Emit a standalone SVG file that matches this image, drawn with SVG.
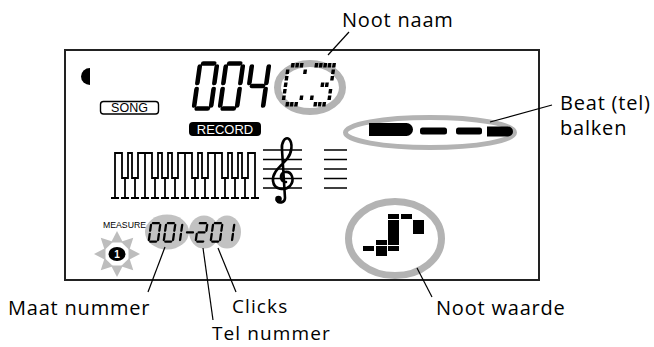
<svg xmlns="http://www.w3.org/2000/svg" xmlns:xlink="http://www.w3.org/1999/xlink" width="654" height="347" viewBox="0 0 654 347">
<style>
.frame{fill:none;stroke:#222;stroke-width:2}
.seg{stroke:#000;stroke-width:4.6;stroke-linecap:round;fill:none}
.sseg{stroke:#000;stroke-width:2.3;stroke-linecap:round;fill:none}
.ring{fill:none;stroke:#b3b3b3}
.gfill{fill:#c2c2c2}
.lead{stroke:#000;stroke-width:1.2;fill:none}
.lbl{font-family:"Open Sans","Noto Sans",sans-serif;font-size:20px;letter-spacing:0.8px;fill:#000}
.lbl2{font-size:19px;letter-spacing:1.1px}
.lcdt{font-family:"Liberation Sans",Arial,sans-serif}
.ray{fill:#bdbdbd}
.px{fill:#000}
.ink{stroke:#000;fill:none}
</style>
<defs>
<g id="D0">
<line x1="5.5" y1="2.5" x2="16.5" y2="2.5"/>
<line x1="19.5" y1="5.5" x2="19.5" y2="22"/>
<line x1="19.5" y1="28" x2="19.5" y2="44.5"/>
<line x1="5.5" y1="47.5" x2="16.5" y2="47.5"/>
<line x1="2.5" y1="28" x2="2.5" y2="44.5"/>
<line x1="2.5" y1="5.5" x2="2.5" y2="22"/>
</g>
<g id="D4">
<line x1="2.5" y1="5.5" x2="2.5" y2="22"/>
<line x1="5.5" y1="25" x2="16.5" y2="25"/>
<line x1="19.5" y1="5.5" x2="19.5" y2="22"/>
<line x1="19.5" y1="28" x2="19.5" y2="44.5"/>
</g>
<g id="S0">
<line x1="3" y1="1.2" x2="9" y2="1.2"/>
<line x1="10.6" y1="3" x2="10.6" y2="8.8"/>
<line x1="10.6" y1="12" x2="10.6" y2="18"/>
<line x1="3" y1="19.6" x2="9" y2="19.6"/>
<line x1="1.4" y1="12" x2="1.4" y2="18"/>
<line x1="1.4" y1="3" x2="1.4" y2="8.8"/>
</g>
<g id="S1">
<line x1="10.6" y1="3" x2="10.6" y2="8.8"/>
<line x1="10.6" y1="12" x2="10.6" y2="18"/>
</g>
<g id="S2">
<line x1="3" y1="1.2" x2="9" y2="1.2"/>
<line x1="10.6" y1="3" x2="10.6" y2="8.8"/>
<line x1="3" y1="10.4" x2="9" y2="10.4"/>
<line x1="1.4" y1="12" x2="1.4" y2="18"/>
<line x1="3" y1="19.6" x2="9" y2="19.6"/>
</g>
<rect id="p" width="3.4" height="4.6"/>
<polygon id="ray" points="0,-23 -6,-11.5 6,-11.5"/>
</defs>

<g id="lcd-frame">
<rect class="frame" x="65" y="50" width="474" height="230"/>
<path d="M90,68 A9,8.5 0 0 0 90,85 Z" fill="#000"/>
</g>

<g id="song-label">
<rect x="100.5" y="101.5" width="58" height="12.5" rx="3" fill="none" stroke="#000" stroke-width="1.4"/>
<text class="lcdt" x="129.5" y="112.3" font-size="12.5" text-anchor="middle">SONG</text>
</g>

<g id="record-label">
<rect x="189" y="122" width="72" height="14" rx="4" fill="#000"/>
<text class="lcdt" x="225" y="133.6" font-size="13" text-anchor="middle" fill="#fff">RECORD</text>
</g>

<g id="song-number">
<g class="seg">
<use xlink:href="#D0" transform="translate(198,61) skewX(-8)"/>
<use xlink:href="#D0" transform="translate(224,61) skewX(-8)"/>
<use xlink:href="#D4" transform="translate(250,61) skewX(-8)"/>
</g>
</g>

<g id="note-name">
<ellipse class="ring" cx="310" cy="87.5" rx="32.5" ry="24" stroke-width="7"/>
<g class="px" transform="translate(287,63) skewX(-8)">
<use xlink:href="#p" x="4.4" y="0"/><use xlink:href="#p" x="8.8" y="0"/><use xlink:href="#p" x="13.2" y="0"/>
<use xlink:href="#p" x="0" y="6.5"/><use xlink:href="#p" x="17.6" y="6.5"/>
<use xlink:href="#p" x="0" y="13"/>
<use xlink:href="#p" x="0" y="19.5"/>
<use xlink:href="#p" x="0" y="26"/>
<use xlink:href="#p" x="0" y="32.5"/><use xlink:href="#p" x="17.6" y="32.5"/>
<use xlink:href="#p" x="4.4" y="39"/><use xlink:href="#p" x="8.8" y="39"/><use xlink:href="#p" x="13.2" y="39"/>
</g>
<g class="px" transform="translate(315,63) skewX(-8)">
<use xlink:href="#p" x="0" y="0"/><use xlink:href="#p" x="4.4" y="0"/><use xlink:href="#p" x="8.8" y="0"/><use xlink:href="#p" x="13.2" y="0"/><use xlink:href="#p" x="17.6" y="0"/>
<use xlink:href="#p" x="17.6" y="6.5"/>
<use xlink:href="#p" x="17.6" y="13"/>
<use xlink:href="#p" x="8.8" y="19.5"/><use xlink:href="#p" x="13.2" y="19.5"/>
<use xlink:href="#p" x="17.6" y="26"/>
<use xlink:href="#p" x="0" y="32.5"/><use xlink:href="#p" x="17.6" y="32.5"/>
<use xlink:href="#p" x="4.4" y="39"/><use xlink:href="#p" x="8.8" y="39"/><use xlink:href="#p" x="13.2" y="39"/>
</g>
</g>

<g id="beat-bars">
<ellipse class="ring" cx="430" cy="132.5" rx="84.5" ry="15" stroke-width="5"/>
<path d="M369,123 H406.5 A6.5,6.5 0 0 1 406.5,136 H369 Z" fill="#000"/>
<rect x="420" y="127.5" width="27" height="7" rx="2.5" fill="#000"/>
<rect x="456" y="127.5" width="26" height="7" rx="2.5" fill="#000"/>
<path d="M487,126.5 H508 A5,5 0 0 1 508,136.5 H487 Z" fill="#000"/>
</g>

<g id="keyboard" class="ink" stroke-width="1.8">
<path d="M115,198 V153 H122 V178 H128 V153 H132 V178 H138 V153 H152 V178 H158 V153 H162 V178 H168 V153 H172 V178 H178 V153 H192 V178 H198 V153 H202 V178 H208 V153 H222 V178 H228 V153 H232 V178 H238 V153 H242 V178 H248 V153 H255 V198"/>
<path d="M125,178V198 M135,178V198 M145,153V198 M155,178V198 M165,178V198 M175,178V198 M185,153V198 M195,178V198 M205,178V198 M215,153V198 M225,178V198 M235,178V198 M245,178V198"/>
<path d="M111,198H119 M121,198H129 M131,198H139 M141,198H149 M151,198H159 M161,198H169 M171,198H179 M181,198H189 M191,198H199 M201,198H209 M211,198H219 M221,198H229 M231,198H239 M241,198H249 M251,198H259"/>
</g>

<g id="staff-clef">
<path class="ink" stroke-width="1.3" d="M263,150H302 M263,159.5H302 M263,169H302 M263,178.5H302 M263,188H302"/>
<path class="ink" stroke-width="2.6" stroke-linecap="round" d="M286,182 C280,182 279,173 285,172 C292,171 295,180 290,186 C285,191 274,190 273,181 C272,172 281,166 287,159 C292,153 293,143 289,139 C285,136 281,143 282,150 L285,198 C285,203 278,204 277,200"/>
<circle cx="278.5" cy="199" r="3.3" fill="#000"/>
</g>

<g id="staff-right">
<path class="ink" stroke-width="1.3" d="M324,150H347 M324,159.5H347 M324,169H347 M324,178.5H347 M324,188H347"/>
</g>

<g id="measure">
<text class="lcdt" x="103" y="228" font-size="8.5" textLength="43" lengthAdjust="spacingAndGlyphs">MEASURE</text>
<ellipse class="gfill" cx="167" cy="232" rx="22" ry="17.5"/>
<ellipse class="gfill" cx="204" cy="232" rx="15" ry="16.5"/>
<ellipse class="gfill" cx="227" cy="232" rx="14" ry="16.5"/>
<g class="sseg">
<use xlink:href="#S0" transform="translate(150,222) skewX(-8)"/>
<use xlink:href="#S0" transform="translate(165,222) skewX(-8)"/>
<use xlink:href="#S1" transform="translate(172,222) skewX(-8)"/>
<line x1="187" y1="232.4" x2="193" y2="232.4"/>
<use xlink:href="#S2" transform="translate(197,222) skewX(-8)"/>
<use xlink:href="#S0" transform="translate(212,222) skewX(-8)"/>
<use xlink:href="#S1" transform="translate(224,222) skewX(-8)"/>
</g>
</g>

<g id="beat-sun">
<g class="ray">
<use xlink:href="#ray" transform="translate(117,254)"/>
<use xlink:href="#ray" transform="translate(117,254) rotate(45)"/>
<use xlink:href="#ray" transform="translate(117,254) rotate(90)"/>
<use xlink:href="#ray" transform="translate(117,254) rotate(135)"/>
<use xlink:href="#ray" transform="translate(117,254) rotate(180)"/>
<use xlink:href="#ray" transform="translate(117,254) rotate(225)"/>
<use xlink:href="#ray" transform="translate(117,254) rotate(270)"/>
<use xlink:href="#ray" transform="translate(117,254) rotate(315)"/>
</g>
<ellipse cx="117" cy="254" rx="8.5" ry="7" fill="#000"/>
<text class="lcdt" x="117" y="257.6" font-size="10" font-weight="bold" text-anchor="middle" fill="#fff">1</text>
</g>

<g id="note-value">
<ellipse class="ring" cx="395" cy="238.5" rx="46.5" ry="37" stroke-width="7"/>
<g fill="#000">
<rect x="363" y="246" width="11" height="5"/>
<rect x="376" y="240" width="11" height="5"/>
<rect x="376" y="246" width="11" height="10"/>
<rect x="388" y="220" width="11" height="25"/>
<rect x="388" y="246" width="11" height="5"/>
<rect x="388" y="214" width="11" height="5"/>
<rect x="401" y="214" width="11" height="5"/>
<rect x="413" y="220" width="11" height="14"/>
</g>
</g>

<g id="connectors" class="lead">
<line x1="349" y1="32" x2="328" y2="55"/>
<line x1="490" y1="122" x2="552" y2="105"/>
<line x1="165" y1="247" x2="148" y2="292"/>
<line x1="203" y1="248" x2="213" y2="320"/>
<line x1="218" y1="248" x2="236" y2="292"/>
<line x1="417" y1="268" x2="432" y2="297"/>
</g>

<g id="labels">
<text class="lbl" x="342" y="27">Noot naam</text>
<text class="lbl" x="560" y="110">Beat (tel)</text>
<text class="lbl" x="560" y="135">balken</text>
<text class="lbl" x="8" y="315">Maat nummer</text>
<text class="lbl lbl2" x="232" y="313">Clicks</text>
<text class="lbl lbl2" x="212" y="340">Tel nummer</text>
<text class="lbl" x="436" y="315">Noot waarde</text>
</g>
</svg>
